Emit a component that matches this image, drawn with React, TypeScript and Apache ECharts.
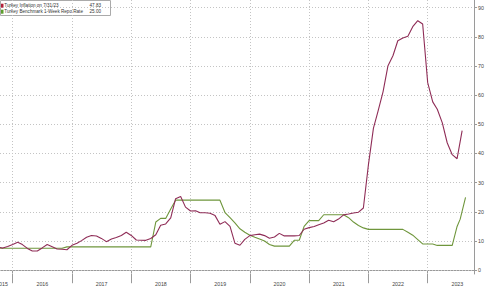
import React, { useEffect, useRef } from "react";
import * as echarts from "echarts";

// Monthly data, first value is month-end of firstMonth
const firstMonth = "2015-09";

// Turkey CPI YoY (%)
const inflation = [
  7.95, 7.58, 8.1, 8.81,
  9.58, 8.78, 7.46, 6.57, 6.58, 7.64, 8.79, 8.05, 7.28, 7.16, 7.0, 8.53,
  9.22, 10.13, 11.29, 11.87, 11.72, 10.9, 9.79, 10.68, 11.2, 11.9, 12.98, 11.92,
  10.35, 10.26, 10.23, 10.85, 12.15, 15.39, 15.85, 17.9, 24.52, 25.24, 21.62, 20.3,
  20.35, 19.67, 19.71, 19.5, 18.71, 15.72, 16.65, 15.01, 9.26, 8.55, 10.56, 11.84,
  12.15, 12.37, 11.86, 10.94, 11.39, 12.62, 11.76, 11.77, 11.75, 11.89, 14.03, 14.6,
  14.97, 15.61, 16.19, 17.14, 16.59, 17.53, 18.95, 19.25, 19.58, 19.89, 21.31, 36.08,
  48.69, 54.44, 61.14, 69.97, 73.5, 78.62, 79.6, 80.21, 83.45, 85.51, 84.39, 64.27,
  57.68, 55.18, 50.51, 43.68, 39.59, 38.21, 47.83,
];

// Turkey benchmark 1-week repo rate (%), month-end Sep 2015 – Jun 2023
const repoRate = [
  7.5, 7.5, 7.5, 7.5,
  7.5, 7.5, 7.5, 7.5, 7.5, 7.5, 7.5, 7.5, 7.5, 7.5, 8, 8,
  8, 8, 8, 8, 8, 8, 8, 8, 8, 8, 8, 8,
  8, 8, 8, 8, 16.5, 17.75, 17.75, 21, 24, 24, 24, 24,
  24, 24, 24, 24, 24, 24, 19.75, 18, 16.2, 14.2, 13, 12,
  11.3, 10.7, 10, 8.8, 8.25, 8.25, 8.25, 8.25, 10.25, 10.25, 15, 17,
  17, 17, 19, 19, 19, 19, 19, 18, 16.5, 15.3, 14.5, 14,
  14, 14, 14, 14, 14, 14, 14, 13, 12, 10.5, 9, 9,
  9, 8.5, 8.5, 8.5, 8.5, 15,
];
// later dated repo readings
const repoExtra: [string, number][] = [
  ["2023-07-20", 17.5],
  ["2023-08-22", 25],
];

const seriesNames = ["Turkey Inflation on 7/31/23", "Turkey Benchmark 1-Week Repo Rate"];
const lastValues = [47.83, 25.0];
const yearBoundaries = [2016, 2017, 2018, 2019, 2020, 2021, 2022, 2023];
const yearLabelPositions = [2015.82, 2016.5, 2017.5, 2018.5, 2019.5, 2020.5, 2021.5, 2022.5, 2023.5];
const yTicks = [0, 10, 20, 30, 40, 50, 60, 70, 80, 90];

const X_MIN = 2015.786;
const X_MAX = 2023.781;

function decYear(d: Date): number {
  const y = d.getUTCFullYear();
  const s = Date.UTC(y, 0, 1);
  const e = Date.UTC(y + 1, 0, 1);
  return y + (d.getTime() - s) / (e - s);
}
function monthEnd(i: number): number {
  const [y, m] = firstMonth.split("-").map(Number);
  return decYear(new Date(Date.UTC(y, m - 1 + i + 1, 1)));
}
function fromDate(s: string): number {
  const [y, m, d] = s.split("-").map(Number);
  return decYear(new Date(Date.UTC(y, m - 1, d)));
}

const RED_LINE = "#8f2d57";
const RED_TAG = "#b21f3b";
const GREEN_LINE = "#6f963c";
const GREEN_TAG = "#5c9e2c";
const GRID_COLOR = "#c4c4c4";
const AXIS_COLOR = "#9a9a9a";
const FONT = "Liberation Sans, Arial, sans-serif";
const LEGEND_FONT = 4.6;

export default function App() {
  const ref = useRef<HTMLDivElement>(null);

  useEffect(() => {
    if (!ref.current) return;
    const chart = echarts.init(ref.current, undefined, { renderer: "svg" });

    const redData = inflation.map((v, i) => [monthEnd(i), v]);
    const greenData = repoRate
      .map((v, i) => [monthEnd(i), v])
      .concat(repoExtra.map(([d, v]) => [fromDate(d), v]));

    const tag = (value: number, color: string) => ({
      silent: true,
      symbol: ["none", "none"],
      z: 6,
      animation: false,
      lineStyle: { opacity: 0, width: 0 },
      label: {
        show: true,
        position: "end",
        distance: 4,
        formatter: () => value.toFixed(2),
        color: "#fff",
        backgroundColor: color,
        fontSize: 5.3,
        fontFamily: FONT,
        padding: [1, 2, 0, 2],
        borderRadius: 2,
      },
      data: [{ yAxis: value }],
    });

    const legendText = (text: string, x: number, y: number, align: string) => ({
      type: "text",
      x,
      y,
      style: { text, fontSize: LEGEND_FONT, fontFamily: FONT, fill: "#333", align, verticalAlign: "middle" },
    });

    const option: any = {
      animation: false,
      backgroundColor: "#fff",
      grid: { left: 0, right: 11, top: 0, bottom: 13, containLabel: false, outerBoundsMode: "none" },
      xAxis: {
        type: "value",
        min: X_MIN,
        max: X_MAX,
        axisLine: { show: true, lineStyle: { color: AXIS_COLOR, width: 1 } },
        axisTick: {
          show: true,
          customValues: yearBoundaries,
          length: 13,
          lineStyle: { color: AXIS_COLOR, width: 1 },
        },
        axisLabel: {
          customValues: yearLabelPositions,
          formatter: (v: number) => String(Math.floor(v)),
          fontSize: 5.3,
          fontFamily: FONT,
          color: "#444",
          margin: 7,
        },
        splitLine: { show: false },
      },
      yAxis: {
        type: "value",
        position: "right",
        min: -1.3,
        max: 92.6,
        axisLine: { show: true, lineStyle: { color: AXIS_COLOR, width: 1 } },
        axisTick: { show: true, customValues: yTicks, length: 3, lineStyle: { color: AXIS_COLOR } },
        axisLabel: {
          customValues: yTicks,
          fontSize: 5.3,
          fontFamily: FONT,
          color: "#444",
          margin: 4,
        },
        splitLine: { show: false },
      },
      series: [
        {
          name: "grid",
          type: "line",
          data: [],
          silent: true,
          markLine: {
            silent: true,
            z: 1,
            animation: false,
            symbol: ["none", "none"],
            label: { show: false },
            lineStyle: { color: GRID_COLOR, type: [1, 2], width: 1 },
            data: [
              ...yTicks.map((v) => ({ yAxis: v })),
              ...yearBoundaries.map((v) => ({ xAxis: v })),
            ],
          },
        },
        {
          name: seriesNames[1],
          type: "line",
          data: greenData,
          showSymbol: false,
          symbol: "none",
          lineStyle: { color: GREEN_LINE, width: 1.1 },
          itemStyle: { color: GREEN_LINE },
          z: 3,
          markLine: tag(lastValues[1], GREEN_TAG),
        },
        {
          name: seriesNames[0],
          type: "line",
          data: redData,
          showSymbol: false,
          symbol: "none",
          lineStyle: { color: RED_LINE, width: 1.1 },
          itemStyle: { color: RED_LINE },
          z: 4,
          markLine: tag(lastValues[0], RED_TAG),
        },
      ],
      graphic: [
        {
          type: "group",
          left: 0,
          top: 0,
          z: 100,
          children: [
            {
              type: "rect",
              shape: { x: 0.5, y: 0.5, width: 110, height: 15 },
              style: { fill: "#fff", stroke: "#aaa", lineWidth: 1 },
            },
            {
              type: "rect",
              shape: { x: 1, y: 3.7, width: 2.5, height: 4 },
              style: { fill: RED_TAG },
            },
            {
              type: "rect",
              shape: { x: 1, y: 9.7, width: 2.5, height: 4 },
              style: { fill: GREEN_TAG },
            },
            legendText(seriesNames[0], 4.3, 5.8, "left"),
            legendText(seriesNames[1], 4.3, 11.8, "left"),
            legendText(lastValues[0].toFixed(2), 101, 5.8, "right"),
            legendText(lastValues[1].toFixed(2), 101, 11.8, "right"),
          ],
        },
      ],
    };

    chart.setOption(option);
    return () => chart.dispose();
  }, []);

  return (
    <div
      ref={ref}
      style={{ position: "fixed", left: 0, top: 0, width: 485, height: 287, background: "#fff" }}
    />
  );
}
